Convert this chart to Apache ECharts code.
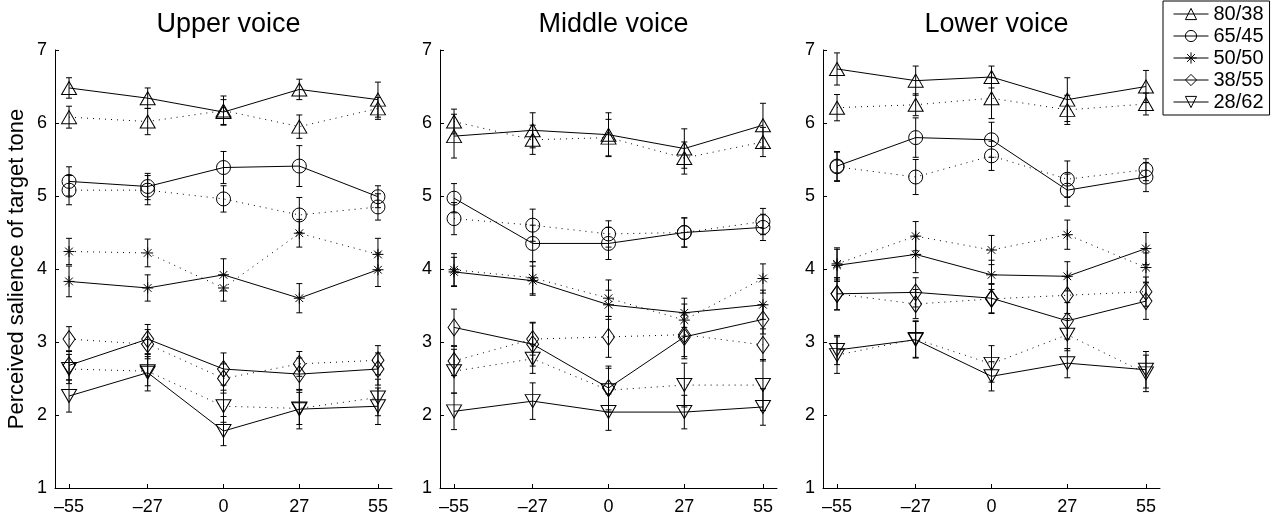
<!DOCTYPE html>
<html>
<head>
<meta charset="utf-8">
<script src="https://cdn.jsdelivr.net/npm/echarts@6/dist/echarts.min.js"></script>
<style>
  html, body { margin: 0; padding: 0; background: #fff; }
  #chart { width: 1280px; height: 518px; }
</style>
</head>
<body>
<div id="chart"></div>
<script>
// x positions (pitch offsets) and condition names
var xValues = [-55, -27, 0, 27, 55];
var groups = ['80/38', '65/45', '50/50', '38/55', '28/62'];
var panelTitles = ['Upper voice', 'Middle voice', 'Lower voice'];

// means, one row per group (solid = first condition, dotted = second)
var upperSolid = [
  [6.48, 6.34, 6.15, 6.46, 6.32],
  [5.20, 5.13, 5.39, 5.41, 4.99],
  [3.83, 3.74, 3.92, 3.60, 3.99],
  [2.68, 3.04, 2.63, 2.56, 2.63],
  [2.26, 2.58, 1.78, 2.08, 2.12]
];
var upperDotted = [
  [6.08, 6.02, 6.17, 5.95, 6.20],
  [5.08, 5.08, 4.96, 4.74, 4.85],
  [4.24, 4.22, 3.74, 4.49, 4.20],
  [3.04, 2.97, 2.50, 2.70, 2.75],
  [2.63, 2.60, 2.12, 2.09, 2.24]
];
var middleSolid = [
  [5.82, 5.90, 5.84, 5.65, 5.97],
  [4.97, 4.35, 4.35, 4.50, 4.57],
  [3.96, 3.84, 3.51, 3.40, 3.51],
  [3.20, 2.97, 2.37, 3.07, 3.31],
  [2.05, 2.19, 2.04, 2.04, 2.11]
];
var middleDotted = [
  [6.02, 5.77, 5.80, 5.52, 5.74],
  [4.69, 4.60, 4.48, 4.50, 4.65],
  [3.99, 3.88, 3.60, 3.30, 3.87],
  [2.74, 3.04, 3.07, 3.10, 2.96],
  [2.60, 2.77, 2.34, 2.41, 2.41]
];
var lowerSolid = [
  [6.74, 6.58, 6.63, 6.32, 6.50],
  [5.41, 5.80, 5.77, 5.08, 5.26],
  [4.05, 4.20, 3.92, 3.90, 4.28],
  [3.66, 3.68, 3.60, 3.29, 3.56],
  [2.89, 3.03, 2.53, 2.71, 2.62]
];
var lowerDotted = [
  [6.21, 6.25, 6.34, 6.18, 6.26],
  [5.40, 5.26, 5.55, 5.23, 5.36],
  [4.07, 4.45, 4.26, 4.47, 4.02],
  [3.66, 3.52, 3.59, 3.64, 3.69],
  [2.82, 3.04, 2.70, 3.10, 2.57]
];

// error bar half-lengths
var upperSolidErr = [
  [0.14, 0.14, 0.17, 0.14, 0.24],
  [0.20, 0.18, 0.22, 0.28, 0.15],
  [0.21, 0.18, 0.22, 0.20, 0.23],
  [0.20, 0.20, 0.22, 0.22, 0.22],
  [0.22, 0.25, 0.20, 0.27, 0.25]
];
var upperDottedErr = [
  [0.15, 0.18, 0.20, 0.16, 0.15],
  [0.20, 0.20, 0.18, 0.24, 0.18],
  [0.18, 0.19, 0.18, 0.19, 0.22],
  [0.17, 0.20, 0.20, 0.17, 0.20],
  [0.20, 0.20, 0.22, 0.22, 0.25]
];
var middleSolidErr = [
  [0.30, 0.24, 0.30, 0.27, 0.30],
  [0.20, 0.25, 0.22, 0.20, 0.18],
  [0.20, 0.20, 0.20, 0.20, 0.20],
  [0.25, 0.30, 0.30, 0.30, 0.20],
  [0.25, 0.25, 0.25, 0.23, 0.25]
];
var middleDottedErr = [
  [0.17, 0.20, 0.25, 0.22, 0.20],
  [0.22, 0.22, 0.18, 0.20, 0.18],
  [0.22, 0.22, 0.25, 0.22, 0.20],
  [0.20, 0.22, 0.28, 0.30, 0.22],
  [0.30, 0.20, 0.30, 0.30, 0.35]
];
var lowerSolidErr = [
  [0.22, 0.20, 0.15, 0.30, 0.22],
  [0.20, 0.27, 0.24, 0.22, 0.20],
  [0.22, 0.25, 0.20, 0.20, 0.22],
  [0.22, 0.20, 0.20, 0.25, 0.25],
  [0.20, 0.25, 0.20, 0.20, 0.25]
];
var lowerDottedErr = [
  [0.18, 0.15, 0.28, 0.20, 0.15],
  [0.20, 0.24, 0.20, 0.25, 0.15],
  [0.22, 0.20, 0.20, 0.20, 0.20],
  [0.22, 0.20, 0.20, 0.25, 0.20],
  [0.25, 0.25, 0.25, 0.22, 0.25]
];

var panels = [
  { solid: upperSolid, dotted: upperDotted, solidErr: upperSolidErr, dottedErr: upperDottedErr },
  { solid: middleSolid, dotted: middleDotted, solidErr: middleSolidErr, dottedErr: middleDottedErr },
  { solid: lowerSolid, dotted: lowerDotted, solidErr: lowerSolidErr, dottedErr: lowerDottedErr }
];

var FONT = 'Liberation Sans, Arial, sans-serif';
var gridLeft = [55, 440, 823];
var gridWidth = 337;

// marker per group: triangle, open circle, asterisk, diamond, down triangle
var markers = [
  { symbol: 'triangle', size: [15, 13], rotate: 0 },
  { symbol: 'circle', size: 14, rotate: 0 },
  { symbol: 'path://M10,0L10,20M0,10L20,10M3,3L17,17M3,17L17,3', size: 11, rotate: 0 },
  { symbol: 'diamond', size: [12, 17], rotate: 0 },
  { symbol: 'triangle', size: [15, 13], rotate: 180 }
];

function pts(vals) {
  return vals.map(function (v, i) { return [xValues[i], v]; });
}

var grids = [], xAxes = [], yAxes = [], titles = [], series = [];

panels.forEach(function (p, k) {
  grids.push({ left: gridLeft[k], top: 50, width: gridWidth, height: 438 });
  titles.push({
    text: panelTitles[k],
    left: gridLeft[k] + gridWidth / 2,
    top: 6,
    textAlign: 'center',
    textStyle: { fontFamily: FONT, fontSize: 27, fontWeight: 'normal', color: '#000' }
  });
  xAxes.push({
    type: 'value', gridIndex: k, min: -60, max: 60,
    axisLine: { show: true, onZero: false, lineStyle: { color: '#000', width: 1 } },
    axisTick: { show: true, inside: true, length: 4, customValues: xValues, lineStyle: { color: '#000' } },
    axisLabel: {
      customValues: xValues, margin: 10, color: '#000', fontFamily: FONT, fontSize: 18,
      formatter: function (v) { return v < 0 ? '\u2013' + Math.abs(v) : String(v); }
    },
    splitLine: { show: false }
  });
  yAxes.push({
    type: 'value', gridIndex: k, min: 1, max: 7, interval: 1,
    name: k === 0 ? 'Perceived salience of target tone' : '',
    nameLocation: 'middle', nameGap: 27, nameRotate: 90,
    nameTextStyle: { fontFamily: FONT, fontSize: 22, color: '#000' },
    axisLine: { show: true, onZero: false, lineStyle: { color: '#000', width: 1 } },
    axisTick: { show: true, inside: true, length: 4, lineStyle: { color: '#000' } },
    axisLabel: { margin: 8, color: '#000', fontFamily: FONT, fontSize: 18 },
    splitLine: { show: false }
  });

  var errData = [];
  ['solid', 'dotted'].forEach(function (style) {
    p[style].forEach(function (vals, g) {
      var m = markers[g];
      series.push({
        type: 'line', name: groups[g], xAxisIndex: k, yAxisIndex: k,
        data: pts(vals),
        symbol: m.symbol, symbolSize: m.size, symbolRotate: m.rotate,
        showAllSymbol: true,
        itemStyle: { color: 'rgba(0,0,0,0)', borderColor: '#000', borderWidth: 1 },
        lineStyle: { color: '#000', width: 1, type: style === 'solid' ? 'solid' : [1, 5] },
        emphasis: { disabled: true },
        z: 3
      });
      var errs = p[style + 'Err'][g];
      vals.forEach(function (v, i) { errData.push([xValues[i], v, errs[i]]); });
    });
  });

  series.push({
    type: 'custom', name: 'errorbars', xAxisIndex: k, yAxisIndex: k,
    data: errData,
    renderItem: function (params, api) {
      var x = api.value(0), y = api.value(1), e = api.value(2);
      var top = api.coord([x, y + e]);
      var bot = api.coord([x, y - e]);
      var cap = 3;
      var st = { stroke: '#000', lineWidth: 1 };
      return {
        type: 'group',
        children: [
          { type: 'line', shape: { x1: top[0], y1: top[1], x2: bot[0], y2: bot[1] }, style: st },
          { type: 'line', shape: { x1: top[0] - cap, y1: top[1], x2: top[0] + cap, y2: top[1] }, style: st },
          { type: 'line', shape: { x1: bot[0] - cap, y1: bot[1], x2: bot[0] + cap, y2: bot[1] }, style: st }
        ]
      };
    },
    z: 2
  });
});

var chart = echarts.init(document.getElementById('chart'));
chart.setOption({
  animation: false,
  backgroundColor: '#fff',
  title: titles,
  grid: grids,
  xAxis: xAxes,
  yAxis: yAxes,
  legend: {
    data: groups,
    orient: 'vertical',
    left: 1163, top: 1,
    padding: [3, 6, 3, 10],
    itemGap: 2,
    itemWidth: 35, itemHeight: 14,
    borderColor: '#000', borderWidth: 1,
    selectedMode: false,
    itemStyle: { color: 'rgba(0,0,0,0)', borderColor: '#000', borderWidth: 1 },
    lineStyle: { color: '#000', width: 1, type: 'solid' },
    textStyle: { fontFamily: FONT, fontSize: 20, color: '#000' }
  },
  series: series
});
window.onresize = function () { chart.resize(); };
</script>
</body>
</html>
